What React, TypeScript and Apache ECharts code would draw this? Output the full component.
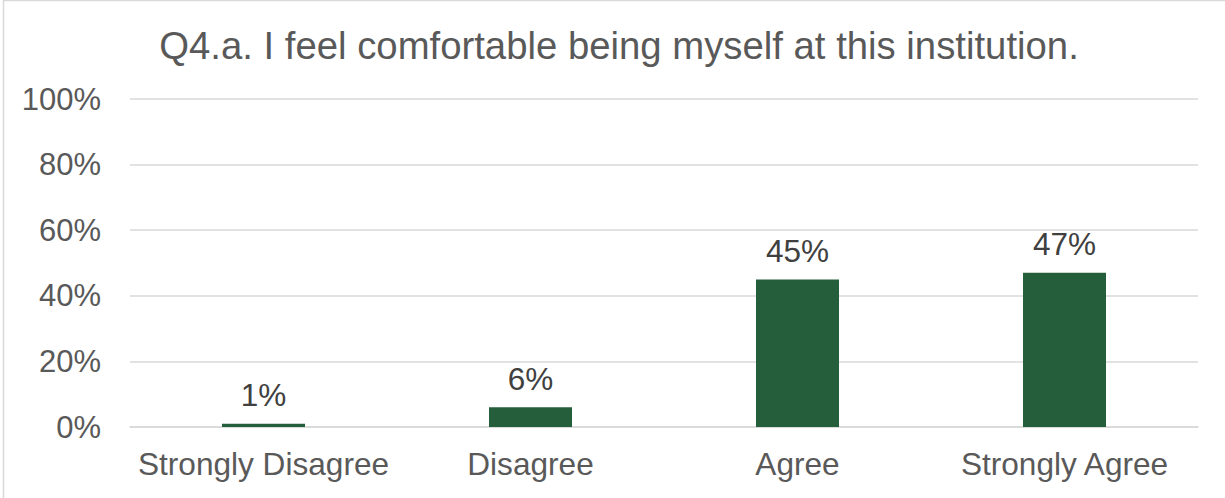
import React, { useEffect, useRef } from "react";
import * as echarts from "echarts";

const categories = ["Strongly Disagree", "Disagree", "Agree", "Strongly Agree"];
const values = [1, 6, 45, 47];
const titleText = "Q4.a. I feel comfortable being myself at this institution.";

export default function App() {
  const ref = useRef<HTMLDivElement>(null);
  useEffect(() => {
    if (!ref.current) return;
    const chart = echarts.init(ref.current, null, { renderer: "svg" });
    const font = "'Liberation Sans', Arial, sans-serif";
    chart.setOption({
      animation: false,
      backgroundColor: "#ffffff",
      title: {
        text: titleText,
        left: 614,
        top: 21,
        textAlign: "center",
        textStyle: { fontFamily: font, fontSize: 38.3, fontWeight: "normal", color: "#595959" },
      },
      graphic: [
        {
          type: "rect",
          shape: { x: 3.5, y: 0.5, width: 1240, height: 520 },
          style: { fill: "none", stroke: "#D9D9D9", lineWidth: 1.5 },
          silent: true,
        },
      ],
      grid: { left: 130, right: 27, top: 99, bottom: 71 },
      xAxis: {
        type: "category",
        data: categories,
        axisLine: { show: true, lineStyle: { color: "#D9D9D9", width: 1.5 } },
        axisTick: { show: false },
        axisLabel: { interval: 0, margin: 21, fontFamily: font, fontSize: 31.6, color: "#595959" },
      },
      yAxis: {
        type: "value",
        min: 0,
        max: 100,
        interval: 20,
        axisLine: { show: false },
        axisTick: { show: false },
        splitLine: { lineStyle: { color: "#D9D9D9", width: 1.5 } },
        axisLabel: { margin: 29, formatter: "{value}%", fontFamily: font, fontSize: 31, color: "#595959" },
      },
      series: [
        {
          type: "bar",
          data: values,
          barWidth: 83,
          itemStyle: { color: "#255E3A" },
          label: {
            show: true,
            position: "top",
            distance: 12.5,
            formatter: "{c}%",
            fontFamily: font,
            fontSize: 31.5,
            color: "#404040",
          },
        },
      ],
    });
    return () => chart.dispose();
  }, []);
  return (
    <div
      ref={ref}
      style={{ position: "fixed", left: 0, top: 0, width: 1225, height: 498 }}
    />
  );
}
